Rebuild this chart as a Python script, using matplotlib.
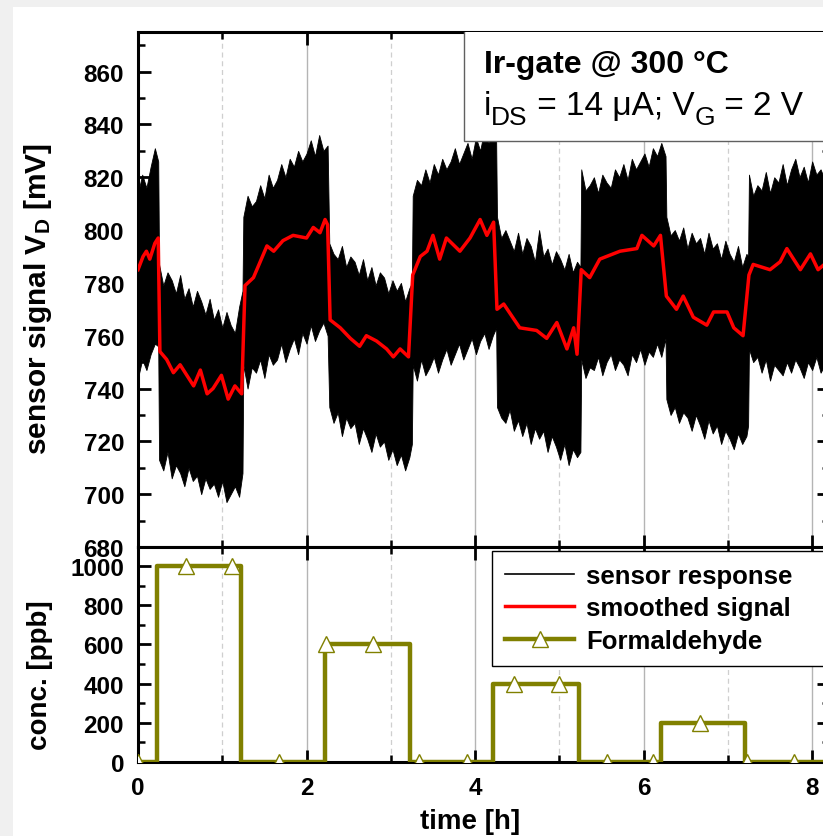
import matplotlib
matplotlib.use("Agg")
import matplotlib.pyplot as plt
from matplotlib.patches import Rectangle
from matplotlib.lines import Line2D
from matplotlib.legend_handler import HandlerTuple
from matplotlib.ticker import MultipleLocator

# ------------------------------------------------------------
# data
# ------------------------------------------------------------

# envelope of the raw sensor trace (upper / lower noise limits, mV), per gas step
seg0_t = [0.00, 0.05, 0.10, 0.15, 0.20, 0.24]
seg0_hi = [814, 821, 816, 824, 831, 826]
seg0_lo = [744, 751, 747, 753, 757, 756]

seg1_t = [0.25, 0.30, 0.35, 0.40, 0.45, 0.50, 0.55, 0.60, 0.65, 0.70, 0.75,
          0.80, 0.85, 0.90, 0.95, 1.00, 1.05, 1.10, 1.15, 1.20, 1.24]
seg1_hi = [787, 779, 784, 781, 776, 783, 774, 778, 771, 777, 773,
           768, 774, 766, 770, 763, 769, 764, 761, 771, 777]
seg1_lo = [713, 709, 716, 706, 711, 708, 703, 710, 705, 707, 700,
           706, 702, 704, 699, 705, 697, 700, 703, 699, 708]

seg2_t = [1.25, 1.30, 1.35, 1.40, 1.45, 1.50, 1.55, 1.60, 1.65, 1.70, 1.75,
          1.80, 1.85, 1.90, 1.95, 2.00, 2.05, 2.10, 2.15, 2.20, 2.25]
seg2_hi = [805, 813, 809, 811, 817, 812, 821, 816, 819, 825, 820,
           827, 824, 830, 826, 829, 834, 828, 836, 830, 832]
seg2_lo = [749, 740, 748, 746, 751, 744, 753, 749, 751, 757, 750,
           755, 759, 753, 761, 757, 764, 758, 762, 765, 760]

seg3_t = [2.27, 2.32, 2.37, 2.42, 2.47, 2.52, 2.57, 2.62, 2.67, 2.72, 2.77,
          2.82, 2.87, 2.92, 2.97, 3.02, 3.07, 3.12, 3.17, 3.22, 3.25]
seg3_hi = [795, 791, 789, 794, 786, 790, 788, 783, 789, 781, 786,
           779, 784, 782, 776, 781, 777, 780, 773, 778, 780]
seg3_lo = [733, 727, 731, 722, 729, 725, 727, 719, 725, 721, 716,
           723, 718, 720, 713, 717, 711, 715, 709, 714, 719]

seg4_t = [3.26, 3.31, 3.36, 3.41, 3.46, 3.51, 3.56, 3.61, 3.66, 3.71, 3.76,
          3.81, 3.86, 3.91, 3.96, 4.01, 4.06, 4.11, 4.16, 4.21, 4.25]
seg4_hi = [813, 819, 817, 823, 818, 825, 821, 827, 823, 826, 831,
           825, 829, 833, 827, 835, 830, 838, 833, 841, 834]
seg4_lo = [749, 743, 751, 745, 748, 752, 746, 751, 755, 749, 753,
           757, 751, 755, 759, 753, 758, 761, 755, 760, 763]

seg5_t = [4.26, 4.31, 4.36, 4.41, 4.46, 4.51, 4.56, 4.61, 4.66, 4.71, 4.76,
          4.81, 4.86, 4.91, 4.96, 5.01, 5.06, 5.11, 5.16, 5.21, 5.25]
seg5_hi = [805, 797, 800, 796, 792, 799, 791, 797, 794, 788, 800,
           790, 793, 787, 792, 789, 785, 791, 784, 788, 786]
seg5_lo = [733, 729, 727, 732, 724, 728, 722, 727, 719, 725, 721,
           724, 716, 722, 718, 713, 719, 711, 717, 714, 716]

seg6_t = [5.26, 5.31, 5.36, 5.41, 5.46, 5.51, 5.56, 5.61, 5.66, 5.71, 5.76,
          5.81, 5.86, 5.91, 5.96, 6.01, 6.06, 6.11, 6.16, 6.21, 6.26]
seg6_hi = [823, 815, 817, 820, 814, 821, 818, 816, 823, 820, 825,
           819, 827, 823, 826, 829, 824, 831, 828, 833, 828]
seg6_lo = [751, 744, 748, 747, 752, 745, 750, 753, 747, 751, 749,
           745, 753, 750, 755, 749, 754, 752, 757, 752, 759]

seg7_t = [6.27, 6.32, 6.37, 6.42, 6.47, 6.52, 6.57, 6.62, 6.67, 6.72, 6.77,
          6.82, 6.87, 6.92, 6.97, 7.02, 7.07, 7.12, 7.17, 7.22, 7.24]
seg7_hi = [805, 798, 800, 796, 801, 793, 799, 795, 797, 791, 799,
           793, 795, 789, 796, 791, 788, 794, 786, 791, 790]
seg7_lo = [736, 730, 733, 727, 731, 729, 724, 730, 726, 721, 728,
           723, 726, 719, 724, 721, 717, 723, 719, 722, 726]

seg8_t = [7.25, 7.30, 7.35, 7.40, 7.45, 7.50, 7.55, 7.60, 7.65, 7.70,
          7.75, 7.80, 7.85, 7.90, 7.95, 8.00, 8.05, 8.10, 8.15, 8.22]
seg8_hi = [821, 813, 817, 815, 822, 814, 820, 818, 825, 817,
           823, 827, 820, 824, 818, 826, 821, 823, 819, 822]
seg8_lo = [755, 750, 752, 746, 751, 743, 749, 747, 745, 750,
           746, 751, 748, 744, 750, 747, 752, 746, 749, 748]

# smoothed signal (mV)
smooth_t = [0.00, 0.06, 0.10, 0.14, 0.20, 0.24,
            0.26, 0.34, 0.42, 0.50, 0.58, 0.66, 0.74, 0.82, 0.89, 0.99, 1.07, 1.15, 1.23,
            1.27, 1.37, 1.45, 1.53, 1.61, 1.72, 1.84, 2.00, 2.08, 2.16, 2.22, 2.25,
            2.28, 2.40, 2.52, 2.63, 2.71, 2.83, 2.95, 3.03, 3.11, 3.21,
            3.26, 3.35, 3.43, 3.50, 3.58, 3.66, 3.82, 3.94, 4.06, 4.14, 4.22,
            4.26, 4.34, 4.53, 4.73, 4.85, 4.97, 5.09, 5.17, 5.21,
            5.26, 5.36, 5.48, 5.72, 5.92, 5.98, 6.12, 6.20,
            6.27, 6.39, 6.47, 6.59, 6.75, 6.83, 6.99, 7.07, 7.18,
            7.25, 7.30, 7.50, 7.62, 7.70, 7.86, 7.98, 8.07, 8.22]
smooth_mv = [785, 790, 792, 789, 795, 797,
             754, 751, 746, 749, 745, 741, 747, 738, 740, 745, 736, 741, 738,
             779, 782, 788, 794, 792, 796, 798, 797, 801, 799, 804, 802,
             766, 763, 759, 756, 760, 758, 755, 752, 755, 752,
             783, 790, 792, 798, 789, 797, 792, 797, 804, 798, 803,
             770, 772, 763, 762, 759, 765, 755, 763, 753,
             785, 782, 789, 792, 793, 798, 794, 798,
             775, 770, 775, 767, 764, 769, 769, 763, 760,
             783, 787, 785, 788, 793, 785, 791, 785, 789]

# formaldehyde dosing (ppb), step changes
gas_t = [0.00, 0.22, 1.22, 2.22, 3.23, 4.21, 5.23, 6.21, 7.20, 8.22]
gas_ppb = [0, 1000, 0, 600, 0, 400, 0, 200, 0, 0]

# symbol positions on the dosing curve
sym_t = [0.00, 0.57, 1.11, 1.67, 2.23, 2.79, 3.34, 3.90, 4.46, 5.00,
         5.57, 6.11, 6.67, 7.23, 7.79]
sym_ppb = [0, 1000, 1000, 0, 600, 600, 0, 0, 400, 400, 0, 0, 200, 0, 0]

env_t = seg0_t + seg1_t + seg2_t + seg3_t + seg4_t + seg5_t + seg6_t + seg7_t + seg8_t
env_hi = seg0_hi + seg1_hi + seg2_hi + seg3_hi + seg4_hi + seg5_hi + seg6_hi + seg7_hi + seg8_hi
env_lo = seg0_lo + seg1_lo + seg2_lo + seg3_lo + seg4_lo + seg5_lo + seg6_lo + seg7_lo + seg8_lo

# ------------------------------------------------------------
# style
# ------------------------------------------------------------

plt.rcParams.update({
    "font.family": ["Liberation Sans", "DejaVu Sans"],
    "font.weight": "bold",
    "mathtext.fontset": "custom",
    "mathtext.rm": "Liberation Sans",
    "mathtext.bf": "Liberation Sans:bold",
    "mathtext.it": "Liberation Sans:italic",
    "axes.linewidth": 2.2,
})

OLIVE = "#808000"
W, H = 823, 837


def style_axes(ax):
    ax.tick_params(which="both", direction="in", top=True, right=True,
                   labelsize=17.5, pad=10)
    ax.tick_params(which="major", length=9, width=2)
    ax.tick_params(which="minor", length=5, width=1.8)
    ax.xaxis.set_major_locator(MultipleLocator(2))
    ax.xaxis.set_minor_locator(MultipleLocator(1))
    ax.grid(which="major", axis="x", color="#b4b4b4", lw=1.0, ls="-")
    ax.grid(which="minor", axis="x", color="#cfcfcf", lw=0.9, ls=(0, (4, 3)))
    ax.set_xlim(0, 8.2)
    for lab in ax.get_xticklabels() + ax.get_yticklabels():
        lab.set_fontweight("bold")


fig = plt.figure(figsize=(W / 100, H / 100), dpi=100)
fig.patch.set_facecolor("#f0f0f0")
fig.add_artist(Rectangle((13 / W, 0), 1, 1 - 8 / H, transform=fig.transFigure,
                         fc="white", ec="none", zorder=-5))

x0 = 138 / W
x1 = 829 / W
y_top = 1 - 33 / H
y_mid = 1 - 548 / H
y_bot = 1 - 763 / H

ax1 = fig.add_axes([x0, y_mid, x1 - x0, y_top - y_mid])
ax2 = fig.add_axes([x0, y_bot, x1 - x0, y_mid - y_bot])

# ---- upper panel: sensor signal
ax1.fill_between(env_t, env_lo, env_hi, color="black", lw=0.6, zorder=2)
ax1.plot(smooth_t, smooth_mv, color="red", lw=2.5, zorder=3)
ax1.set_ylim(680, 875)
ax1.yaxis.set_major_locator(MultipleLocator(20))
ax1.yaxis.set_minor_locator(MultipleLocator(10))
style_axes(ax1)
ax1.tick_params(labelbottom=False)
ax1.set_ylabel(r"sensor signal V$_{\mathbf{D}}$ [mV]", fontsize=21.5, fontweight="bold")
ax1.yaxis.set_label_coords(-0.122, 0.4835)

# parameter box, top right
ax1.add_patch(Rectangle((0.4718, 0.788), 0.7, 0.3, transform=ax1.transAxes,
                        fc="white", ec="#606060", lw=1.0, zorder=6))
ax1.text(0.5007, 0.922, "Ir-gate @ 300 °C", transform=ax1.transAxes,
         fontsize=23, fontweight="bold", va="baseline", ha="left", zorder=7)

# second line built piece by piece so the subscripts stay large
line2_y = 0.841
main_fs, sub_fs = 24, 19
pieces = [("DS", True), (" = 14 μA; V", False), ("G", True), (" = 2 V", False)]
prev = ax1.text(0.5007, line2_y, "i", transform=ax1.transAxes,
                fontsize=main_fs, fontweight="normal", va="baseline", ha="left", zorder=7)
for txt, is_sub in pieces:
    prev = ax1.annotate(txt, xy=(1, line2_y), xycoords=(prev, ax1.transAxes),
                        xytext=(0, -7 if is_sub else 0), textcoords="offset points",
                        fontsize=sub_fs if is_sub else main_fs, fontweight="normal",
                        va="baseline", ha="left", zorder=7, annotation_clip=False)

# ---- lower panel: gas concentration
gas_line, = ax2.step(gas_t, gas_ppb, where="post", color=OLIVE, lw=3.2, zorder=3)
gas_sym, = ax2.plot(sym_t, sym_ppb, ls="none", marker="^", ms=11, mfc="white",
                    mec=OLIVE, mew=1.0, zorder=4)
ax2.set_ylim(0, 1097)
ax2.yaxis.set_major_locator(MultipleLocator(200))
ax2.yaxis.set_minor_locator(MultipleLocator(100))
style_axes(ax2)
ax2.set_ylabel("conc. [ppb]", fontsize=20, fontweight="bold")
ax2.yaxis.set_label_coords(-0.123, 0.41)
ax2.set_xlabel("time [h]", fontsize=20, fontweight="bold")
ax2.xaxis.set_label_coords(0.48, -0.215)

raw_handle = Line2D([], [], color="black", lw=1.2)
smooth_handle = Line2D([], [], color="red", lw=2.5)
leg = ax2.legend([raw_handle, smooth_handle, (gas_line, gas_sym)],
                 ["sensor response", "smoothed signal", "Formaldehyde"],
                 handler_map={tuple: HandlerTuple(ndivide=1)},
                 loc="upper left", bbox_to_anchor=(0.5123, 0.981, 0.6, 0),
                 mode="expand", borderaxespad=0, borderpad=0.5,
                 handlelength=2.7, handletextpad=0.45, labelspacing=0.33,
                 numpoints=1, fancybox=False, framealpha=1,
                 prop={"size": 18.5, "weight": "bold"})
leg.get_frame().set_edgecolor("black")
leg.get_frame().set_linewidth(1.0)

fig.savefig("out.png", dpi=100)
